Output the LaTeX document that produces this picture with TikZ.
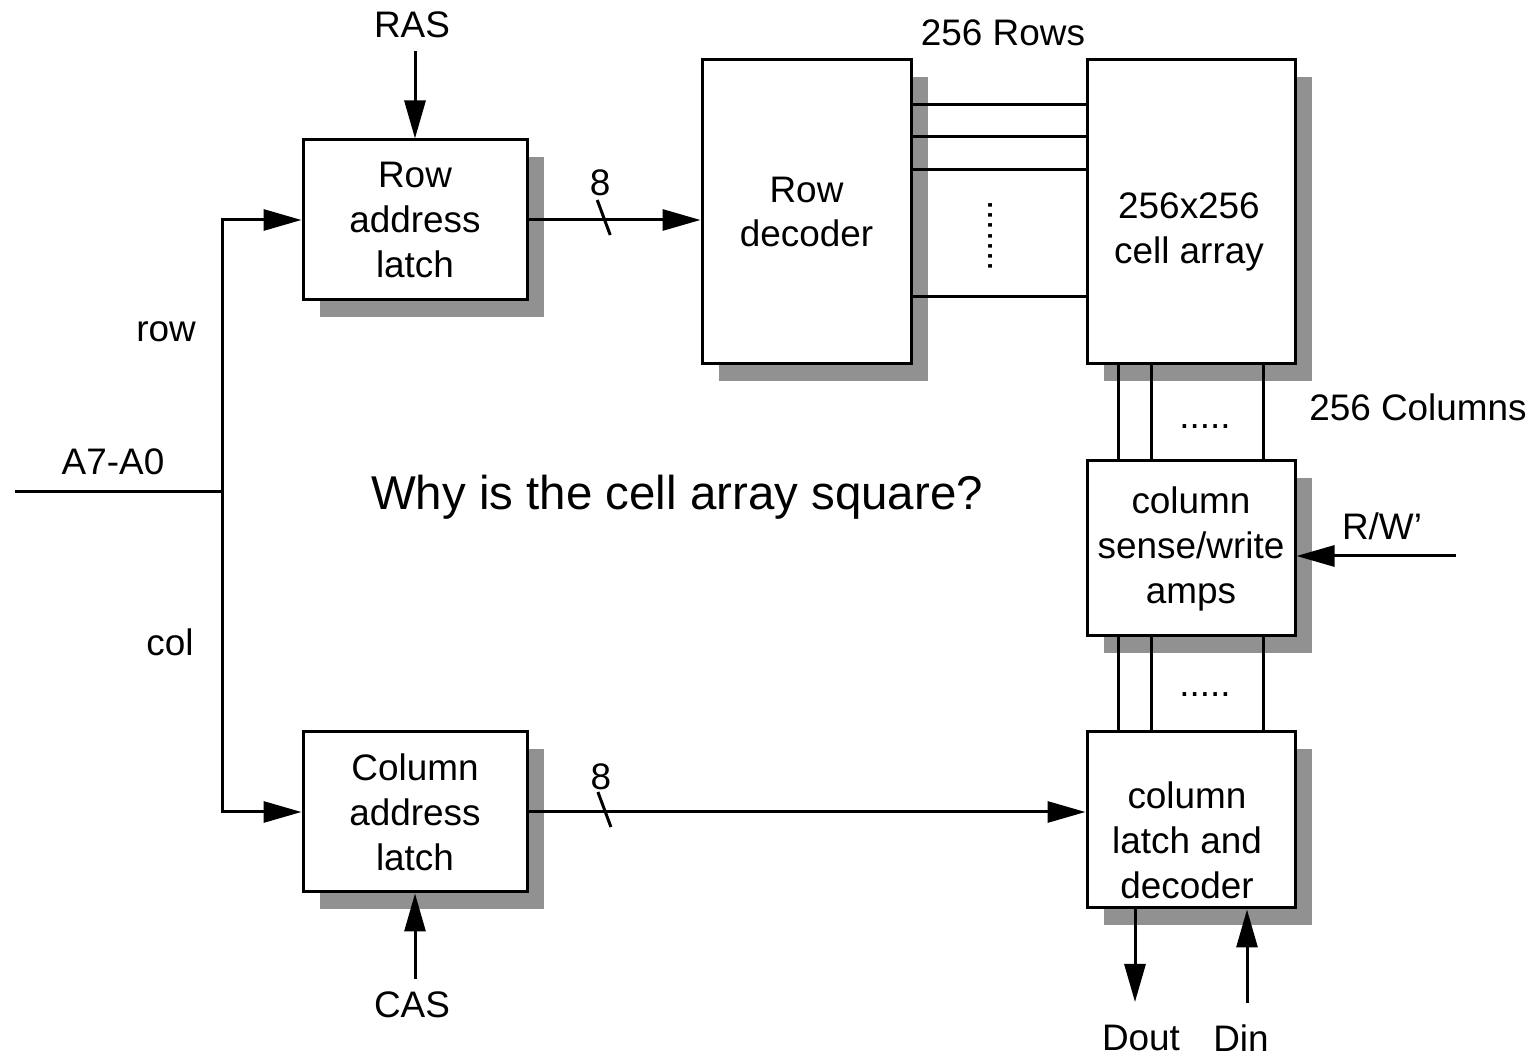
\documentclass[tikz,border=0pt]{standalone}
\usepackage{fontspec}
\setmainfont{Liberation Sans}
\usetikzlibrary{arrows.meta,positioning,shadows}

\begin{document}
\begin{tikzpicture}[x=0.1mm, y=-0.1mm, line width=0.3mm,
  every node/.style={font=\fontsize{10.5}{12.8}\selectfont, align=center},
  blk/.style={draw, fill=white, line width=0.3mm, inner sep=0pt,
    drop shadow={shadow xshift=1.7mm, shadow yshift=-1.7mm, fill=black!43, opacity=1}},
  arr/.style={-{Triangle[length=3.8mm, width=2.1mm]}}]
  \useasboundingbox (0,0) rectangle (1539,1056);
  % blocks
  \node[blk, minimum width=22.4mm, minimum height=16mm] (rlatch) at (415,220) {Row\\address\\latch};
  \node[blk, minimum width=22.4mm, minimum height=16mm] (clatch) at (415,812) {Column\\address\\latch};
  \node[blk, minimum width=20.9mm, minimum height=30.4mm] (rdec) at (806.5,212) {Row\\decoder};
  \node[blk, minimum width=20.8mm, minimum height=30.4mm] (cells) at (1191,212) {};
  \node (cellstxt) at (1189,232) {256x256\\cell array};
  \node[blk, minimum width=20.8mm, minimum height=17.5mm] (amps) at (1191,548.5) {column\\sense/write\\amps};
  \node[blk, minimum width=20.8mm, minimum height=17.6mm] (cdec) at (1191,820) {};
  \node (cdectxt) at (1187,840) {column\\latch and\\decoder};
  % row and column lines
  \foreach \y in {105,137,170,297}
    \draw (rdec.east |- 0,\y) -- (cells.west |- 0,\y);
  \node[rotate=90, inner sep=0pt] (rdots) at (991,236) {.......};
  \foreach \x in {1118,1151,1263} {
    \draw (cells.south -| \x,0) -- (amps.north -| \x,0);
    \draw (amps.south -| \x,0) -- (cdec.north -| \x,0);
  }
  \node[inner sep=0pt] (cdots1) at (1205,427) {.....};
  \node[inner sep=0pt] (cdots2) at (1205,695) {.....};
  % labels
  \node (ras) at (412,25) {RAS};
  \node (cas) at (412,1005) {CAS};
  \node (addr) at (113,462) {A7-A0};
  \node (rowlbl) at (166,332) {row};
  \node (collbl) at (170,642) {col};
  \node (rows) at (1003,33) {256 Rows};
  \node (cols) at (1418,407) {256 Columns};
  \node (rw) at (1382,526) {R/W’};
  \node (dout) at (1141,1038) {Dout};
  \node (din) at (1241,1038) {Din};
  \node[font=\fontsize{13.5}{16}\selectfont] (why) at (677,497) {Why is the cell array square?};
  % address inputs
  \coordinate (ain) at (15,492);
  \coordinate (split) at (222,492);
  \draw (ain) -- (split);
  \draw[arr] (split) |- (rlatch.west);
  \draw[arr] (split) |- (clatch.west);
  \draw[arr] (ras.south -| rlatch.north) -- (rlatch.north);
  \draw[arr] (cas.north -| clatch.south) -- (clatch.south);
  % 8 bit buses
  \draw[arr] (rlatch.east) -- coordinate[pos=0.417] (rbus) (rlatch.east -| rdec.west);
  \draw[arr] (clatch.east) -- coordinate[pos=0.13] (cbus) (clatch.east -| cdec.west);
  \draw (rbus) ++(-3,-20) -- ++(13,35);
  \draw (cbus) ++(-3,-20) -- ++(13,35);
  \node (rbits) at ([yshift=3.7mm]rbus) {8};
  \node (cbits) at ([yshift=3.5mm]cbus) {8};
  % data and control
  \coordinate (rwin) at (1456,556);
  \draw[arr] (rwin) -- (rwin -| amps.east);
  \coordinate (doutend) at (1135,1002);
  \coordinate (dinstart) at (1247,1003);
  \draw[arr] (cdec.south -| doutend) -- (doutend);
  \draw[arr] (dinstart) -- (cdec.south -| dinstart);
\end{tikzpicture}
\end{document}
